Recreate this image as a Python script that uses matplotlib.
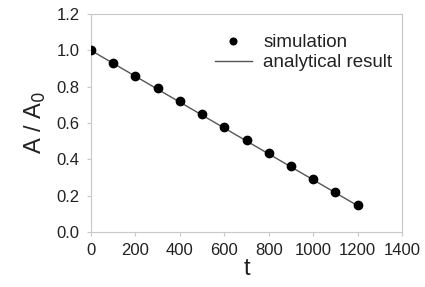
import matplotlib
matplotlib.use("Agg")
import matplotlib.pyplot as plt

t_sim = [0, 100, 200, 300, 400, 500, 600, 700, 800, 900, 1000, 1100, 1200]
a_sim = [1.0, 0.933, 0.859, 0.792, 0.721, 0.649, 0.578, 0.506, 0.435, 0.363, 0.292, 0.22, 0.149]
t_ana = [0, 1200]
a_ana = [1.0, 0.145]
x_ticks = [0, 200, 400, 600, 800, 1000, 1200, 1400]
y_ticks = [0.0, 0.2, 0.4, 0.6, 0.8, 1.0, 1.2]

plt.rcParams['font.family'] = ['Liberation Sans', 'DejaVu Sans']
fig = plt.figure(figsize=(4.25, 2.87), dpi=100)
ax = fig.add_axes([0.214, 0.1916, 0.732, 0.7594])

ax.plot(t_ana, a_ana, color='#555555', lw=1.0, label='analytical result', zorder=2)
ax.plot(t_sim, a_sim, 'o', color='black', ms=6, label='simulation', zorder=3)

ax.set_xlim(0, 1400)
ax.set_ylim(0, 1.2)
ax.set_xticks(x_ticks)
ax.set_yticks(y_ticks)
ax.set_yticklabels([f"{v:.1f}" for v in y_ticks])
for s in ax.spines.values():
    s.set_color('#c8c8c8')
    s.set_linewidth(0.8)
ax.tick_params(direction='out', length=3, color='#c8c8c8', labelsize=12, labelcolor='#222222', pad=5)
ax.set_xlabel('t', fontsize=17, color='#222222', labelpad=0)
ax.set_ylabel('A / A$_0$', fontsize=17, color='#222222', labelpad=6)

h, l = ax.get_legend_handles_labels()
ax.legend([h[1], h[0]], [l[1], l[0]], loc='upper right', frameon=False, fontsize=13.5,
          handlelength=2.0, handletextpad=0.6, labelspacing=0.15, bbox_to_anchor=(1.023, 0.985),
          markerscale=0.8, labelcolor='#222222')

fig.savefig('out.png', dpi=100)
